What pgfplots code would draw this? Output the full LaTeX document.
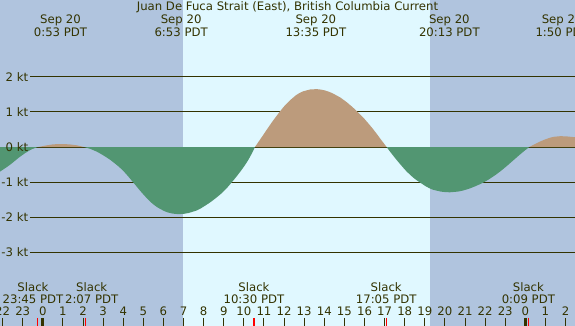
\documentclass[border=0pt]{standalone}
\usepackage{pgfplots}
\pgfplotsset{compat=1.18}
\usepackage{fontspec}
\setmainfont{DejaVu Sans}
\definecolor{night}{HTML}{B0C4DE}
\definecolor{day}{HTML}{E0F8FF}
\definecolor{ebb}{HTML}{529672}
\definecolor{flood}{HTML}{BC9B7C}
\definecolor{ink}{HTML}{333300}
\begin{document}
\fontsize{11.7}{13}\selectfont
\begin{tikzpicture}
\useasboundingbox (0,0) rectangle (575pt,326pt);
\clip (0,0) rectangle (575pt,326pt);
\begin{axis}[at={(0,0)}, anchor=south west, scale only axis,
  width=575pt, height=326pt,
  xmin=-2.13, xmax=26.47, ymin=-5.10, ymax=4.19,
  axis lines=none, clip=true]
% backgrounds
\fill[night] (rel axis cs:0,0) rectangle (rel axis cs:1,1);
\addplot[fill=day, draw=none] coordinates {(6.97,-5.2) (6.97,4.3) (19.26,4.3) (19.26,-5.2)} -- cycle;
% kt lines
\pgfplotsinvokeforeach{2,1,0,-1,-2,-3}{
  \draw[ink, line width=1pt] (axis cs:-0.64,#1) -- (axis cs:26.6,#1);
}
% current curve
\addplot[fill=ebb, draw=none, smooth, tension=0.7] coordinates {
(-2.3,-0.77) (-2.13,-0.70) (-1.64,-0.51) (-1.14,-0.28) (-0.64,-0.09) (-0.23,0)} \closedcycle;
\addplot[fill=flood, draw=none, smooth, tension=0.7] coordinates {
(-0.23,0) (0.19,0.047) (0.5,0.075) (0.93,0.085) (1.3,0.077) (1.68,0.05) (2.03,0)} \closedcycle;
\addplot[fill=ebb, draw=none, smooth, tension=0.7] coordinates {
(2.03,0) (2.35,-0.05) (2.68,-0.13) (3.1,-0.27) (3.5,-0.43) (4.0,-0.68) (4.5,-1.01) (5.0,-1.35) (5.49,-1.63) (5.99,-1.81) (6.4,-1.89) (6.82,-1.91) (7.25,-1.88) (7.65,-1.81) (8.05,-1.68) (8.48,-1.51) (8.98,-1.27) (9.39,-1.01) (9.81,-0.71) (10.14,-0.44) (10.39,-0.19) (10.55,0)} \closedcycle;
\addplot[fill=flood, draw=none, smooth, tension=0.7] coordinates {
(10.55,0) (10.97,0.35) (11.35,0.67) (11.75,0.98) (12.02,1.17) (12.29,1.33) (12.6,1.48) (12.96,1.59) (13.3,1.64) (13.62,1.65) (14.05,1.61) (14.45,1.52) (14.8,1.41) (15.11,1.28) (15.4,1.14) (15.69,0.98) (16.0,0.80) (16.27,0.62) (16.55,0.42) (16.77,0.25) (17.1,0)} \closedcycle;
\addplot[fill=ebb, draw=none, smooth, tension=0.7] coordinates {
(17.1,0) (17.35,-0.19) (17.6,-0.37) (18.1,-0.70) (18.4,-0.86) (18.73,-1.0) (19.05,-1.12) (19.42,-1.22) (19.8,-1.27) (20.25,-1.29) (20.65,-1.27) (21.08,-1.21) (21.5,-1.12) (21.95,-1.0) (22.35,-0.86) (22.74,-0.70) (23.1,-0.53) (23.4,-0.38) (23.7,-0.23) (23.95,-0.11) (24.2,0)} \closedcycle;
\addplot[fill=flood, draw=none, smooth, tension=0.7] coordinates {
(24.2,0) (24.6,0.12) (25.0,0.22) (25.4,0.29) (25.75,0.31) (26.1,0.30) (26.6,0.27)} \closedcycle;
% kt labels
\pgfplotsinvokeforeach{2,1,0,-1,-2,-3}{
  \node[ink, anchor=east, inner sep=0pt] at (axis cs:-0.72,#1) {#1 kt};
}
% hour ticks and labels
\pgfplotsinvokeforeach{-2,...,27}{
  \draw[ink, line width=1pt] (axis cs:#1,-4.87) -- (axis cs:#1,-5.12);
  \node[ink, inner sep=0pt] at (axis cs:#1,-4.67) {\pgfmathparse{int(mod(#1+24,24))}\pgfmathresult};
}
\draw[ink, line width=3pt] (axis cs:0,-4.87) -- (axis cs:0,-5.12);
\draw[ink, line width=3pt] (axis cs:24,-4.87) -- (axis cs:24,-5.12);
\pgfplotsinvokeforeach{-0.25,2.12,10.5,17.08,24.15}{
  \draw[red, line width=1.2pt] (axis cs:#1,-4.87) -- (axis cs:#1,-5.12);
}
% slack labels
\node[ink, inner sep=0pt] at (axis cs:-0.49,-4.00) {Slack};
\node[ink, inner sep=0pt] at (axis cs:-0.49,-4.34) {23:45 PDT};
\node[ink, inner sep=0pt] at (axis cs:2.43,-4.00) {Slack};
\node[ink, inner sep=0pt] at (axis cs:2.43,-4.34) {2:07 PDT};
\node[ink, inner sep=0pt] at (axis cs:10.5,-4.00) {Slack};
\node[ink, inner sep=0pt] at (axis cs:10.5,-4.34) {10:30 PDT};
\node[ink, inner sep=0pt] at (axis cs:17.08,-4.00) {Slack};
\node[ink, inner sep=0pt] at (axis cs:17.08,-4.34) {17:05 PDT};
\node[ink, inner sep=0pt] at (axis cs:24.15,-4.00) {Slack};
\node[ink, inner sep=0pt] at (axis cs:24.15,-4.34) {0:09 PDT};
% title and max labels
\node[ink, inner sep=0pt] at (axis cs:12.17,3.99) {Juan De Fuca Strait (East), British Columbia Current};
\node[ink, inner sep=0pt] at (axis cs:0.88,3.62) {Sep 20};
\node[ink, inner sep=0pt] at (axis cs:0.88,3.28) {0:53 PDT};
\node[ink, inner sep=0pt] at (axis cs:6.88,3.62) {Sep 20};
\node[ink, inner sep=0pt] at (axis cs:6.88,3.28) {6:53 PDT};
\node[ink, inner sep=0pt] at (axis cs:13.58,3.62) {Sep 20};
\node[ink, inner sep=0pt] at (axis cs:13.58,3.28) {13:35 PDT};
\node[ink, inner sep=0pt] at (axis cs:20.22,3.62) {Sep 20};
\node[ink, inner sep=0pt] at (axis cs:20.22,3.28) {20:13 PDT};
\node[ink, inner sep=0pt] at (axis cs:25.83,3.62) {Sep 20};
\node[ink, inner sep=0pt] at (axis cs:25.83,3.28) {1:50 PDT};
\end{axis}
\end{tikzpicture}
\end{document}
